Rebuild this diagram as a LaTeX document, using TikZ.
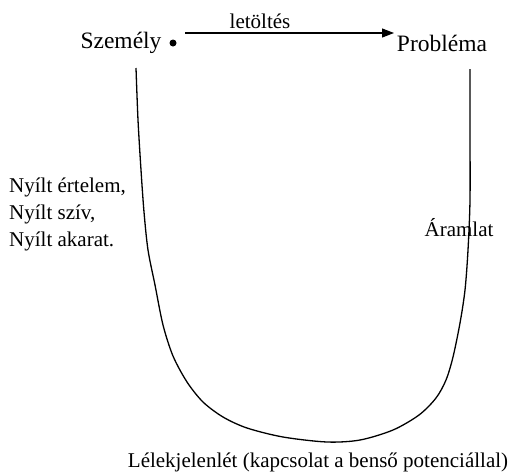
\documentclass[tikz,border=0pt]{standalone}
\usepackage{fontspec}
\setmainfont{Liberation Serif}
\usetikzlibrary{arrows.meta}
\begin{document}
\begin{tikzpicture}[x=1pt,y=-1pt,
  lbl/.style={inner sep=0pt,font=\fontsize{21}{27}\selectfont},
  big/.style={inner sep=0pt,font=\fontsize{23.5}{28}\selectfont},
  ucurve/.style={line width=1.3pt},
  flow/.style={line width=1.1pt,-{Triangle[length=12pt,width=9pt]}}]
\useasboundingbox (0,0) rectangle (508,474);
\node[big] (szem) at (121,43) {Személy};
\fill (173,43) circle (3.5) coordinate (dot);
\node[big] (prob) at (442,43) {Probléma};
\node[lbl] (let) at (260,21) {letöltés};
\coordinate (a1) at (185,33);
\coordinate (a2) at (394,33);
\draw[flow] (a1) -- (a2);
\node[lbl,anchor=north west,align=left] (nyilt) at (9,178) {Nyílt értelem,\\Nyílt szív,\\Nyílt akarat.};
\node[lbl] (aram) at (459,228) {Áramlat};
\node[lbl] (lelek) at (318,462) {Lélekjelenlét (kapcsolat a benső potenciállal)};
\draw[ucurve] plot[smooth,tension=0.5] coordinates {(136,68) (138,120) (141,170) (144,212) (148,250) (155,285) (163,325) (173,356) (187,382) (203,402) (223,417) (247,428) (283,437) (327,442) (360,440) (393,430) (419,415) (436,398) (446,380) (453,357) (460,323) (465,290) (468,250) (470,200) (470,130) (470,69)};
\end{tikzpicture}
\end{document}
